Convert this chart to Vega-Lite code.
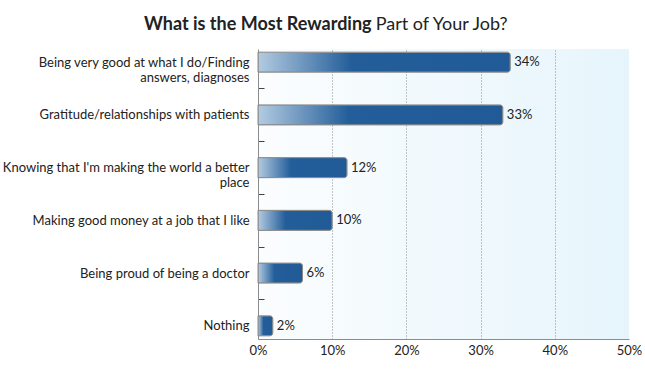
{
  "$schema": "https://vega.github.io/schema/vega-lite/v6.json",
  "width": 371,
  "height": 290,
  "autosize": {"type": "none"},
  "padding": {"left": 258, "top": 49, "right": 16, "bottom": 37},
  "background": "white",
  "title": {
    "text": "What is the Most Rewarding",
    "subtitle": "\u200b\u2003\u2003\u2003\u2003\u2003\u2003\u2003\u2003\u2003\u2003\u2003\u2003\u2003\u2003\u2003\u2003\u2002\u2009\u2009\u2009Part of Your Job?",
    "anchor": "start",
    "frame": "group",
    "dx": -114,
    "offset": 2,
    "font": "Lato",
    "fontSize": 18,
    "fontWeight": "bold",
    "color": "#222222",
    "subtitleFont": "Lato",
    "subtitleFontSize": 18,
    "subtitleFontWeight": "normal",
    "subtitleColor": "#222222",
    "subtitlePadding": -18
  },
  "config": {
    "view": {
      "stroke": null,
      "fill": {"gradient": "linear", "x1": 0, "x2": 1, "y1": 0, "y2": 0, "stops": [{"offset": 0, "color": "#fbfdfe"}, {"offset": 1, "color": "#e6f5fc"}]}
    },
    "font": "Lato"
  },
  "data": {
    "values": [
      {"category": "Being very good at what I do/Finding|answers, diagnoses", "value": 34},
      {"category": "Gratitude/relationships with patients", "value": 33},
      {"category": "Knowing that I'm making the world a better|place", "value": 12},
      {"category": "Making good money at a job that I like", "value": 10},
      {"category": "Being proud of being a doctor", "value": 6},
      {"category": "Nothing", "value": 2}
    ]
  },
  "encoding": {
    "y": {
      "field": "category",
      "type": "nominal",
      "sort": null,
      "scale": {"paddingInner": 0.62, "paddingOuter": 0.06},
      "axis": {
        "title": null,
        "labelExpr": "split(datum.value, '|')",
        "labelFont": "Lato",
        "labelFontSize": 13,
        "labelColor": "#222222",
        "labelLineHeight": 15,
        "labelPadding": 15,
        "labelLimit": 300,
        "labelOffset": 26.5,
        "domainColor": "#8c8c8c",
        "tickSize": -6,
        "tickOffset": -26.5,
        "tickColor": {"condition": {"test": "indexof(datum.value, 'Being very good') == 0", "value": "transparent"}, "value": "#444444"},
        "grid": false
      }
    },
    "x": {
      "field": "value",
      "type": "quantitative",
      "scale": {"domain": [0, 50], "nice": false},
      "axis": {
        "title": null,
        "values": [0, 10, 20, 30, 40, 50],
        "labelExpr": "datum.value + '%'",
        "labelFont": "Lato",
        "labelFontSize": 13,
        "labelColor": "#222222",
        "labelPadding": 5,
        "ticks": false,
        "domainColor": "#8c8c8c",
        "grid": true,
        "gridDash": [1, 2],
        "gridColor": {"condition": {"test": "datum.value == 0 || datum.value == 50", "value": "transparent"}, "value": "#8a8a8a"},
        "labelFlush": false
      }
    }
  },
  "layer": [
    {
      "mark": {
        "type": "bar",
        "stroke": "#8a8a8a",
        "strokeWidth": 1,
        "cornerRadiusEnd": 3,
        "fill": {"gradient": "linear", "x1": 0, "x2": 1, "y1": 0, "y2": 0, "stops": [{"offset": 0, "color": "#b3cbe1"}, {"offset": 0.37, "color": "#235e9a"}, {"offset": 1, "color": "#215b97"}]}
      }
    },
    {
      "mark": {"type": "text", "align": "left", "dx": 4, "fontSize": 13, "color": "#222222", "font": "Lato", "text": {"expr": "datum.value + '%'"}}
    }
  ]
}
